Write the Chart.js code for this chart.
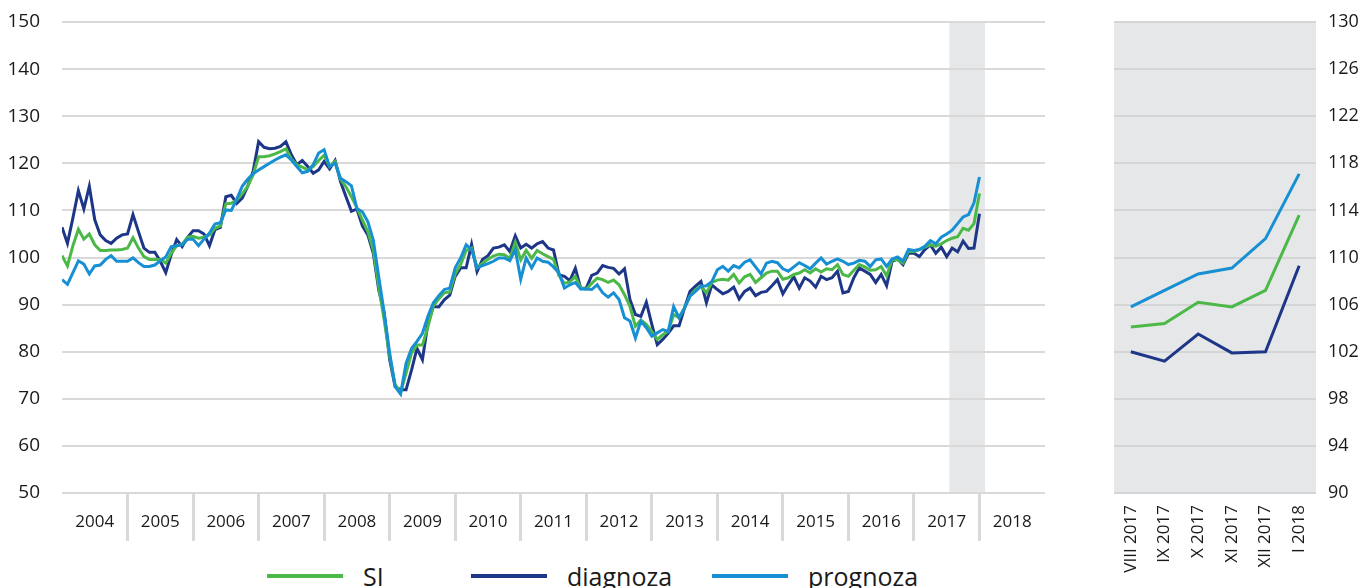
<!DOCTYPE html>
<html>
<head>
<meta charset="utf-8">
<script src="https://cdn.jsdelivr.net/npm/chart.js@4.4.0/dist/chart.umd.min.js"></script>
<style>
    html, body { margin: 0; padding: 0; background: #fff; }
    body { width: 1364px; height: 588px; position: relative; overflow: hidden; font-family: "Open Sans", sans-serif; }
    #wrapPrincipal { position: absolute; left: 0; top: 0; width: 1090px; height: 548px; }
    #wrapZoom { position: absolute; left: 1090px; top: 0; width: 274px; height: 588px; }
    #legenda { position: absolute; left: 0; top: 556px; width: 1090px; height: 40px; }
    .item { position: absolute; top: 0; height: 40px; display: flex; align-items: center; font-size: 25px; color: #1a1a1a; white-space: nowrap; }
    .item:nth-child(1) { left: 267px; }
    .item:nth-child(2) { left: 471px; }
    .item:nth-child(3) { left: 712px; }
    .linha { display: inline-block; width: 76px; height: 4px; margin-right: 20px; }
</style>
</head>
<body>
<div id="wrapPrincipal"><canvas id="graficoPrincipal" width="1090" height="548"></canvas></div>
<div id="wrapZoom"><canvas id="graficoZoom" width="274" height="588"></canvas></div>
<div id="legenda"></div>

<script>
// =================== DADOS ===================
const anos = ['2004', '2005', '2006', '2007', '2008', '2009', '2010', '2011', '2012', '2013', '2014', '2015', '2016', '2017', '2018'];
const rotulosZoom = ['VIII 2017', 'IX 2017', 'X 2017', 'XI 2017', 'XII 2017', 'I 2018'];

// valores mensais, jan 2004 .. jan 2018
const serieSI = [
    100.4, 98.2, 102.5, 106.0, 103.9, 105.0, 102.7, 101.5, 101.5, 101.6, 101.6, 101.7,
    102.0, 104.2, 102.0, 100.2, 99.6, 99.6, 99.6, 98.8, 100.9, 102.5, 102.8, 104.3,
    104.5, 104.1, 104.3, 104.8, 106.2, 106.7, 111.4, 111.5, 112.2, 113.5, 115.1, 117.6,
    121.4, 121.4, 121.6, 122.0, 122.5, 123.1, 120.9, 119.7, 119.2, 118.6, 119.3, 120.6,
    121.7, 119.3, 120.4, 116.6, 115.0, 112.9, 110.6, 108.0, 105.5, 101.6, 93.8, 86.7,
    79.0, 73.0, 71.3, 75.4, 79.7, 81.4, 81.4, 85.3, 89.7, 91.2, 92.5, 92.7,
    96.5, 98.5, 101.5, 102.0, 97.8, 98.8, 99.6, 100.3, 100.7, 100.6, 99.8, 103.2,
    99.5, 101.5, 99.8, 101.5, 100.8, 100.2, 99.6, 96.2, 94.5, 94.8, 96.0, 93.5,
    93.3, 94.5, 95.6, 95.3, 94.7, 95.2, 94.2, 92.1, 89.6, 85.4, 86.7, 85.8,
    84.3, 82.6, 83.6, 84.3, 87.9, 87.2, 89.3, 91.8, 93.2, 93.9, 92.5, 94.7,
    95.2, 95.4, 95.2, 96.4, 94.6, 95.9, 96.4, 94.7, 95.7, 96.7, 97.1, 97.1,
    95.4, 95.7, 96.4, 96.7, 97.4, 96.7, 97.6, 96.9, 97.6, 97.4, 98.5, 96.4,
    96.0, 97.3, 98.5, 98.0, 97.3, 97.4, 98.1, 96.1, 99.5, 99.5, 98.8, 101.3,
    101.3, 101.7, 102.2, 102.7, 102.4, 102.9, 103.6, 104.1, 104.4, 106.2, 105.8, 107.2,
    113.6
];

const serieDiagnoza = [
    106.4, 103.0, 108.4, 114.2, 110.3, 115.1, 108.0, 104.8, 103.6, 103.0, 104.1, 104.8,
    105.0, 109.1, 105.5, 102.0, 101.1, 101.1, 99.2, 96.8, 100.6, 103.8, 102.3, 104.3,
    105.7, 105.7, 105.0, 102.5, 105.9, 106.4, 112.9, 113.2, 111.5, 112.6, 115.1, 118.3,
    124.6, 123.4, 123.1, 123.2, 123.6, 124.6, 121.8, 119.7, 120.6, 119.3, 117.9, 118.6,
    120.4, 118.8, 120.6, 116.1, 112.9, 109.8, 110.3, 106.7, 104.8, 100.9, 93.1, 88.2,
    78.3, 72.6, 71.9, 71.9, 76.1, 80.7, 78.3, 86.0, 89.6, 89.5, 91.0, 92.0,
    96.0, 97.8, 97.8, 102.8, 97.0, 99.6, 100.4, 102.0, 102.2, 102.7, 101.3, 104.6,
    102.0, 102.8, 102.0, 102.9, 103.4, 102.0, 101.6, 96.3, 96.0, 95.1, 97.7, 93.4,
    93.5, 96.2, 96.7, 98.3, 97.9, 97.7, 96.5, 97.6, 91.1, 87.9, 87.5, 90.5,
    85.8, 81.5, 82.6, 83.9, 85.5, 85.5, 89.3, 92.8, 93.9, 94.9, 90.4, 94.2,
    93.2, 92.3, 92.8, 93.7, 91.2, 92.8, 93.5, 91.9, 92.6, 92.8, 94.0, 95.3,
    92.3, 94.2, 95.9, 93.5, 95.7, 95.0, 93.7, 96.0, 95.3, 95.7, 97.1, 92.5,
    92.8, 95.7, 97.8, 97.1, 96.4, 94.7, 96.4, 94.0, 99.2, 99.7, 98.5, 100.9,
    100.9, 100.2, 101.7, 102.7, 100.9, 102.2, 100.2, 102.0, 101.2, 103.5, 101.9, 102.0,
    109.3
];

const seriePrognoza = [
    95.3, 94.3, 96.8, 99.3, 98.6, 96.5, 98.2, 98.4, 99.6, 100.4, 99.2, 99.2,
    99.2, 99.9, 98.9, 98.1, 98.1, 98.4, 99.3, 100.1, 102.3, 102.5, 102.7, 103.9,
    103.9, 102.5, 103.9, 105.2, 107.1, 107.4, 110.1, 110.0, 112.4, 115.1, 116.6, 117.8,
    118.6, 119.3, 120.0, 120.7, 121.3, 121.8, 120.7, 119.3, 118.0, 118.3, 119.7, 122.2,
    122.9, 119.3, 120.0, 116.8, 116.1, 115.2, 110.4, 109.7, 107.6, 103.7, 95.9, 88.2,
    79.7, 72.6, 71.0, 77.5, 80.7, 82.2, 83.9, 87.5, 90.4, 91.9, 93.2, 93.5,
    97.8, 99.9, 102.7, 101.7, 97.8, 98.3, 98.7, 99.2, 99.9, 99.9, 99.3, 101.7,
    95.4, 99.9, 97.8, 99.9, 99.2, 99.0, 98.0, 96.7, 93.5, 94.2, 94.7, 93.3,
    93.3, 93.2, 94.2, 92.5, 91.6, 92.5, 91.1, 87.2, 86.5, 82.9, 86.5, 85.1,
    83.3, 84.0, 84.7, 84.3, 89.6, 87.2, 89.3, 91.8, 92.8, 93.9, 94.0, 94.9,
    97.4, 98.1, 97.1, 98.3, 97.8, 99.0, 99.5, 98.0, 96.5, 98.8, 99.2, 98.9,
    97.6, 97.1, 98.0, 98.9, 98.3, 97.6, 98.8, 99.9, 98.6, 99.2, 99.7, 99.2,
    98.5, 98.8, 99.4, 99.2, 98.1, 99.5, 99.7, 98.1, 99.7, 100.1, 99.2, 101.7,
    101.5, 101.7, 102.4, 103.6, 102.9, 104.3, 105.0, 105.8, 107.2, 108.6, 109.1, 111.6,
    117.1
];

// periodo destacado (ago 2017 - jan 2018), em meses desde jan 2004
const inicioDestaque = 162.5;
const fimDestaque = 169;

const series = [
    { nome: 'SI', valores: serieSI, cor: '#4cb848', ordem: 1 },
    { nome: 'diagnoza', valores: serieDiagnoza, cor: '#1d3687', ordem: 2 },
    { nome: 'prognoza', valores: seriePrognoza, cor: '#178fd3', ordem: 0 }
];

const COR_TEXTO = '#1a1a1a';
const COR_GRADE = '#d9d9d9';
const COR_CINZA = '#e6e7e8';

// =================== PLUGINS ===================
const faixaCinza = {
    id: 'faixaCinza',
    beforeDraw(chart) {
        const { ctx, chartArea, scales } = chart;
        const x1 = scales.x.getPixelForValue(inicioDestaque);
        const x2 = scales.x.getPixelForValue(fimDestaque);
        ctx.save();
        ctx.fillStyle = COR_CINZA;
        ctx.fillRect(x1, chartArea.top, x2 - x1, chartArea.bottom - chartArea.top);
        ctx.restore();
    }
};

const fundoCinza = {
    id: 'fundoCinza',
    beforeDraw(chart) {
        const { ctx, chartArea } = chart;
        ctx.save();
        ctx.fillStyle = COR_CINZA;
        ctx.fillRect(chartArea.left, chartArea.top, chartArea.right - chartArea.left, chartArea.bottom - chartArea.top);
        ctx.restore();
    }
};

Chart.defaults.font.family = '"Open Sans", sans-serif';
Chart.defaults.color = COR_TEXTO;

// =================== GRAFICO PRINCIPAL ===================
const totalMeses = anos.length * 12;

new Chart(document.getElementById('graficoPrincipal'), {
    type: 'line',
    data: {
        datasets: series.map(s => ({
            label: s.nome,
            data: s.valores.map((v, i) => ({ x: i, y: v })),
            borderColor: s.cor,
            backgroundColor: s.cor,
            borderWidth: 3,
            pointRadius: 0,
            tension: 0,
            fill: false,
            order: s.ordem
        }))
    },
    options: {
        responsive: false,
        animation: false,
        layout: { padding: { top: 22, right: 45, left: 0, bottom: 0 } },
        plugins: { legend: { display: false }, tooltip: { enabled: false } },
        scales: {
            x: {
                type: 'linear',
                min: 0,
                max: totalMeses,
                afterFit: s => { s.height = 55; },
                border: { display: false },
                grid: {
                    drawOnChartArea: false,
                    drawTicks: true,
                    tickLength: 48,
                    lineWidth: 3,
                    color: c => (c.tick && c.tick.value % 12 === 0 && c.tick.value > 0 && c.tick.value < totalMeses)
                        ? COR_GRADE : 'rgba(0,0,0,0)'
                },
                ticks: {
                    stepSize: 6,
                    autoSkip: false,
                    maxRotation: 0,
                    padding: -29,
                    font: { size: 17 },
                    callback: v => (v % 12 === 6 ? anos[(v - 6) / 12] : '')
                }
            },
            y: {
                min: 50,
                max: 150,
                // padding dos ticks nao deve empurrar a area do grafico para baixo
                afterFit: s => { s.width = 62; s.paddingTop = 0; s.paddingBottom = 0; },
                border: { display: false },
                grid: { color: COR_GRADE, lineWidth: 2, drawTicks: false },
                ticks: { stepSize: 10, padding: 22, font: { size: 19 } }
            }
        }
    },
    plugins: [faixaCinza]
});

// =================== GRAFICO ZOOM ===================
new Chart(document.getElementById('graficoZoom'), {
    type: 'line',
    data: {
        labels: rotulosZoom,
        datasets: series.map(s => ({
            label: s.nome,
            data: s.valores.slice(-rotulosZoom.length),
            borderColor: s.cor,
            borderWidth: 3,
            pointRadius: 0,
            tension: 0,
            fill: false,
            order: s.ordem
        }))
    },
    options: {
        responsive: false,
        animation: false,
        layout: { padding: { top: 22, left: 24, right: 0, bottom: 0 } },
        plugins: { legend: { display: false }, tooltip: { enabled: false } },
        scales: {
            x: {
                offset: true,
                afterFit: s => { s.height = 95; },
                grid: { display: false },
                border: { display: false },
                ticks: { minRotation: 90, maxRotation: 90, autoSkip: false, padding: 4, font: { size: 17 } }
            },
            y: {
                position: 'right',
                min: 90,
                max: 130,
                afterFit: s => { s.width = 48; s.paddingTop = 0; s.paddingBottom = 0; },
                border: { display: false },
                grid: { color: '#d4d5d7', lineWidth: 2, drawTicks: false },
                ticks: { stepSize: 4, padding: 12, font: { size: 18 } }
            }
        }
    },
    plugins: [fundoCinza]
});

// =================== LEGENDA ===================
const legenda = document.getElementById('legenda');
series.forEach(s => {
    const item = document.createElement('div');
    item.className = 'item';
    const linha = document.createElement('span');
    linha.className = 'linha';
    linha.style.background = s.cor;
    item.appendChild(linha);
    item.appendChild(document.createTextNode(s.nome));
    legenda.appendChild(item);
});
</script>
</body>
</html>
